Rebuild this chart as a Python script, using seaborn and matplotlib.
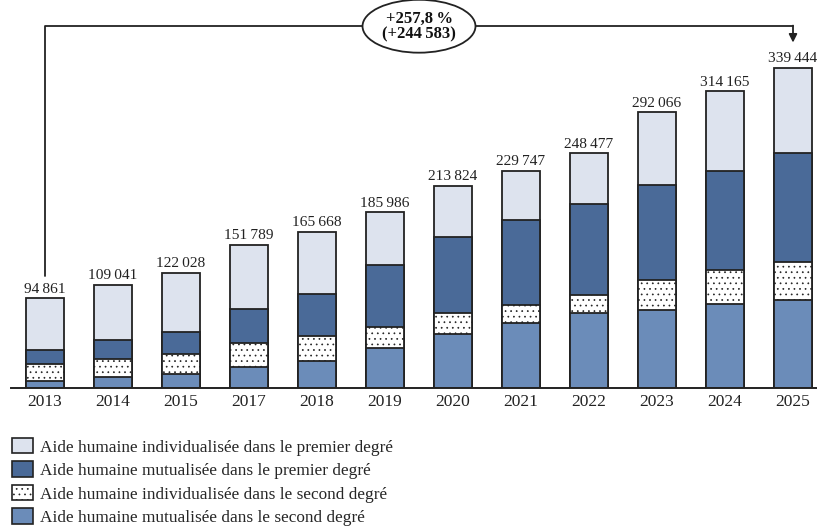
import pandas as pd
import matplotlib.pyplot as plt
import seaborn as sns

# Données (lecture du graphique)
annees = ["2013", "2014", "2015", "2017", "2018", "2019", "2020",
          "2021", "2022", "2023", "2024", "2025"]
totaux = [94861, 109041, 122028, 151789, 165668, 185986, 213824,
          229747, 248477, 292066, 314165, 339444]
mut_second = [7700, 11200, 14800, 21800, 28900, 42400, 57500,
              69200, 79800, 83000, 89000, 93300]
indiv_second = [17200, 19500, 21200, 25900, 26500, 22300, 21500,
                19100, 19100, 31800, 35600, 40300]
mut_premier = [15200, 19700, 23600, 36000, 44200, 65300, 80500,
               90100, 96400, 99900, 105300, 115800]

series = ["Aide humaine individualisée dans le premier degré",
          "Aide humaine mutualisée dans le premier degré",
          "Aide humaine individualisée dans le second degré",
          "Aide humaine mutualisée dans le second degré"]
couleurs = ["#dde3ee", "#4a6a98", "#ffffff", "#6b8cb9"]
hachures = [None, None, "...", None]

df = pd.DataFrame({"annee": annees, "total": totaux,
                   "mut2": mut_second, "ind2": indiv_second, "mut1": mut_premier})
# cumuls pour l'empilement (on dessine du plus haut au plus bas)
df["c3"] = df["mut2"] + df["ind2"] + df["mut1"]
df["c2"] = df["mut2"] + df["ind2"]
df["c1"] = df["mut2"]
cols = ["total", "c3", "c2", "c1"]

sns.set_style("white")
plt.rcParams["font.family"] = ["Liberation Serif", "DejaVu Serif"]
plt.rcParams["hatch.linewidth"] = 0.5

fig = plt.figure(figsize=(8.17, 5.31), dpi=100)
ax = fig.add_axes([11 / 817, 143 / 531, 816 / 817, 388 / 531])

bord = "#222222"
for col, c, h in zip(cols, couleurs, hachures):
    sns.barplot(data=df, x="annee", y=col, color=c, saturation=1,
                edgecolor=bord, linewidth=1.3, width=0.56, hatch=h, ax=ax)

etiquettes = [f"{v:,}".replace(",", "\u2009") for v in totaux]
ax.bar_label(ax.containers[0], labels=etiquettes, padding=2, fontsize=11.1, color="#222222")

ax.set_xlim(-0.5, 11.5)
ax.set_ylim(0, 411100)
ax.set_xlabel("")
ax.set_ylabel("")
ax.set_yticks([])
for s in ["left", "right", "top"]:
    ax.spines[s].set_visible(False)
ax.spines["bottom"].set_color(bord)
ax.spines["bottom"].set_linewidth(1.4)
ax.tick_params(axis="x", length=0, pad=4, labelsize=12.5, colors="#222222")

# Accolade d'évolution 2013 -> 2025
y_haut = 383300
ax.plot([0, 0, 11], [118900, y_haut, y_haut], color=bord, lw=1.3, clip_on=False)
ax.annotate("", xy=(11, 366000), xytext=(11, y_haut + 700),
            arrowprops=dict(arrowstyle="-|>", color=bord, lw=1.3, mutation_scale=12,
                            shrinkA=0, shrinkB=0), annotation_clip=False)
ax.text(5.5, y_haut, "+257,8\u2009%\n(+244\u2009583)", ha="center", va="center",
        fontsize=12, fontweight="bold", linespacing=0.95, color="#111111",
        bbox=dict(boxstyle="ellipse,pad=0.18", fc="white", ec=bord, lw=1.3))

# Légende
handles = [plt.Rectangle((0, 0), 1, 1, fc=c, ec=bord, lw=1.2, hatch=h)
           for c, h in zip(couleurs, hachures)]
fig.legend(handles, series, loc="upper left", bbox_to_anchor=(12 / 817, 1 - 438 / 531),
           frameon=False, fontsize=12.4, handlelength=1.2, handleheight=1.0,
           handletextpad=0.45, labelspacing=0.34, borderpad=0, borderaxespad=0)

fig.savefig("out.png", dpi=100)
